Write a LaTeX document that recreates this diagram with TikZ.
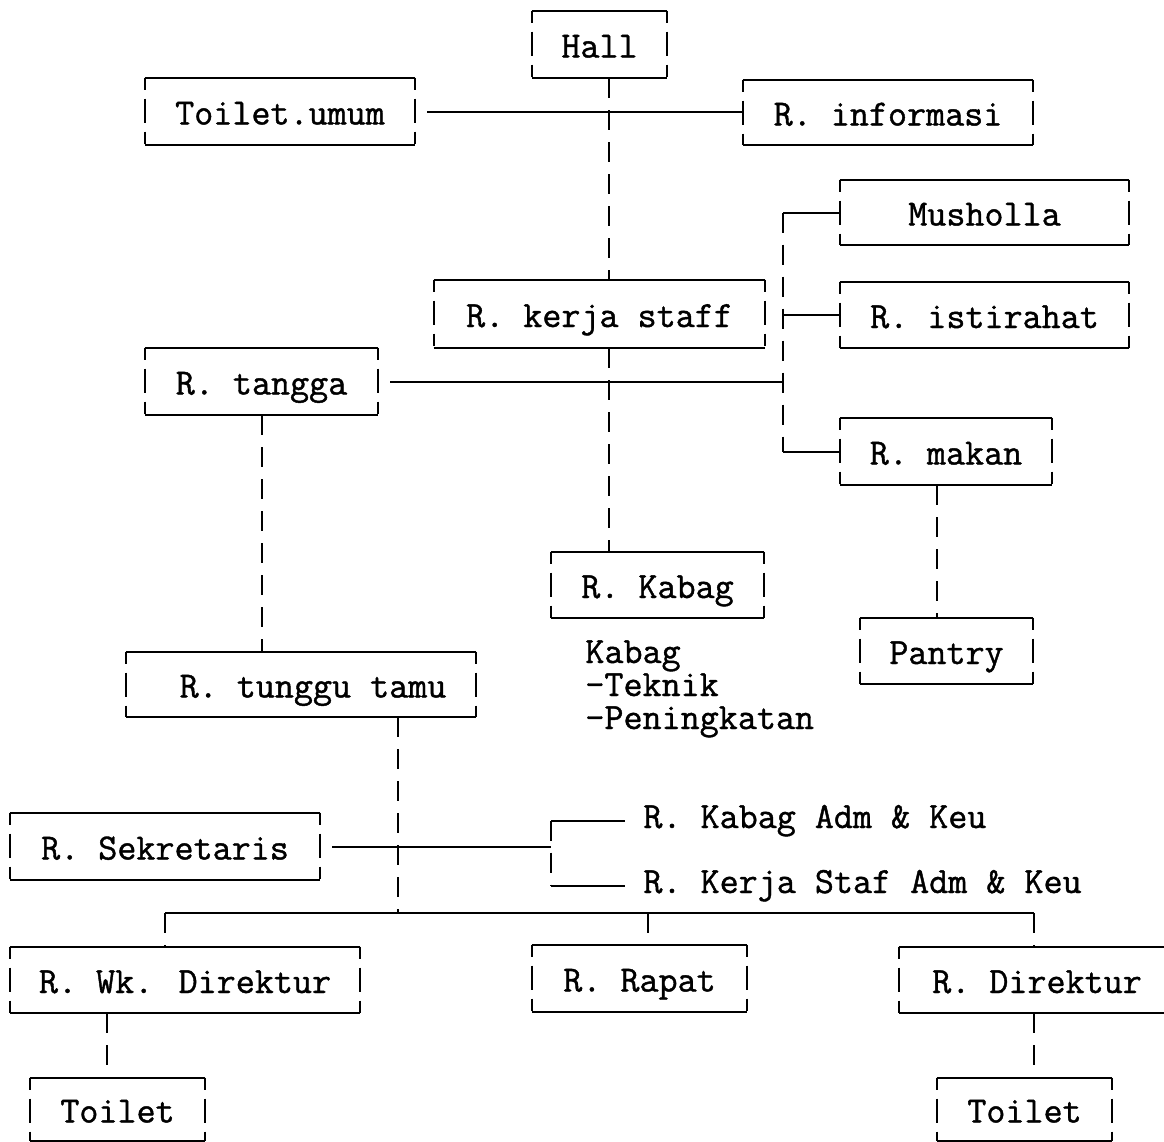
\documentclass[tikz,border=0pt]{standalone}
\usepackage{fontspec}
\newfontfamily\typew{Latin Modern Mono}[FakeBold=1.1]
\newcommand\roomfont{\fontsize{18.5}{17}\selectfont\typew}
\begin{document}
\begin{tikzpicture}[x=0.5pt,y=-0.5pt,
  room/.style 2 args={draw=none, inner sep=0pt, minimum width=#1*0.5pt, minimum height=#2*0.5pt, text height=13pt, text depth=0pt, font=\roomfont},
  plain/.style={inner sep=0pt, font=\roomfont},
  hedge/.style={line width=1pt},
  vedge/.style={line width=1pt, dash pattern=on 6pt off 4.5pt on 12pt off 4.5pt},
  hline/.style={line width=1pt},
  vline/.style={line width=1pt, dash pattern=on 10pt off 6pt}]
\useasboundingbox (0,0) rectangle (1164,1142);
\clip (0,0) rectangle (1164,1142);

% rooms
\node[room={135}{67}] (hall) at (599.5,44.5) {Hall};
\node[room={270}{67}] (toiletumum) at (280,111.5) {Toilet.umum};
\node[room={290}{65}] (info) at (888,112.5) {R. informasi};
\node[room={289}{65}] (musholla) at (984.5,212.5) {Musholla};
\node[room={289}{66}] (istirahat) at (984.5,315) {R. istirahat};
\node[room={331}{68}] (kerja) at (599.5,314) {R. kerja staff};
\node[room={233}{67}] (tangga) at (261.5,381.5) {R. tangga};
\node[room={212}{67}] (makan) at (946,451.5) {R. makan};
\node[room={213}{66}] (kabag) at (657.5,585) {R. Kabag};
\node[room={173}{66}] (pantry) at (946.5,651) {Pantry};
\node[room={350}{65}] (tunggu) at (301,684.5) {\hspace{12pt}R. tunggu tamu};
\node[room={310}{67}] (sekretaris) at (165,846.5) {R. Sekretaris};
\node[room={350}{66}] (wk) at (185,980) {R. Wk. Direktur};
\node[room={215}{67}] (rapat) at (639.5,978.5) {R. Rapat};
\node[room={276}{66}] (direktur) at (1037,980) {R. Direktur};
\node[room={175}{63}] (toiletL) at (117.5,1109.5) {Toilet};
\node[room={175}{63}] (toiletR) at (1024.5,1109.5) {Toilet};

% plain labels
\node[plain, anchor=base west] (kabag1) at (585,663) {Kabag};
\node[plain, anchor=base west] (kabag2) at (585,696) {-Teknik};
\node[plain, anchor=base west] (kabag3) at (585,729) {-Peningkatan};
\node[plain, anchor=base west] (adm1) at (643,828) {R. Kabag Adm \& Keu};
\node[plain, anchor=base west] (adm2) at (643,893) {R. Kerja Staf Adm \& Keu};

% room borders
\foreach \n in {hall,toiletumum,info,musholla,istirahat,kerja,tangga,makan,kabag,pantry,tunggu,sekretaris,wk,rapat,direktur,toiletL,toiletR} {
  \draw[hedge] (\n.north west) -- (\n.north east) (\n.south west) -- (\n.south east);
  \draw[vedge] (\n.north west) -- (\n.south west) (\n.north east) -- (\n.south east);
}

% junction coordinates
\coordinate (c1) at (609,110);
\coordinate (bus) at (783,382);
\coordinate (c2) at (398,913);
\coordinate (brk) at (551,848);
\coordinate (bl) at (165,913);
\coordinate (bm) at (648,913);
\coordinate (br) at (1034,913);
\coordinate (wkd) at (107,1045);
\coordinate (mk) at (937,550);

% connectors
\draw[vline] (hall.south -| c1) -- (kerja.north -| c1);
\draw[hline, shorten <=6pt] (toiletumum.east) -- (toiletumum.east -| info.west);
\draw[vline] (kerja.south -| c1) -- (kabag.north -| c1);
\draw[hline, shorten <=6pt] (tangga.east) -- (tangga.east -| bus);
\draw[vline] (musholla.west -| bus) -- (makan.west -| bus);
\draw[hline] (musholla.west -| bus) -- (musholla.west);
\draw[hline] (istirahat.west -| bus) -- (istirahat.west);
\draw[hline] (makan.west -| bus) -- (makan.west);
\draw[vline] (makan.south -| mk) -- (pantry.north -| mk);
\draw[vline] (tangga.south) -- (tunggu.north -| tangga.south);
\draw[vline] (tunggu.south -| c2) -- (c2);
\draw[hline, shorten <=6pt] (sekretaris.east) -- (sekretaris.east -| brk);
\draw[vline] (adm1.west -| brk) -- (adm2.west -| brk);
\draw[hline, shorten >=9pt] (adm1.west -| brk) -- (adm1.west);
\draw[hline, shorten >=9pt] (adm2.west -| brk) -- (adm2.west);
\draw[hline] (bl) -- (br);
\draw[vline] (bl) -- (wk.north -| bl);
\draw[vline] (bm) -- (rapat.north -| bm);
\draw[vline] (br) -- (direktur.north -| br);
\draw[vline] (wk.south -| wkd) -- (toiletL.north -| wkd);
\draw[vline] (direktur.south -| br) -- (toiletR.north -| br);
\end{tikzpicture}
\end{document}
